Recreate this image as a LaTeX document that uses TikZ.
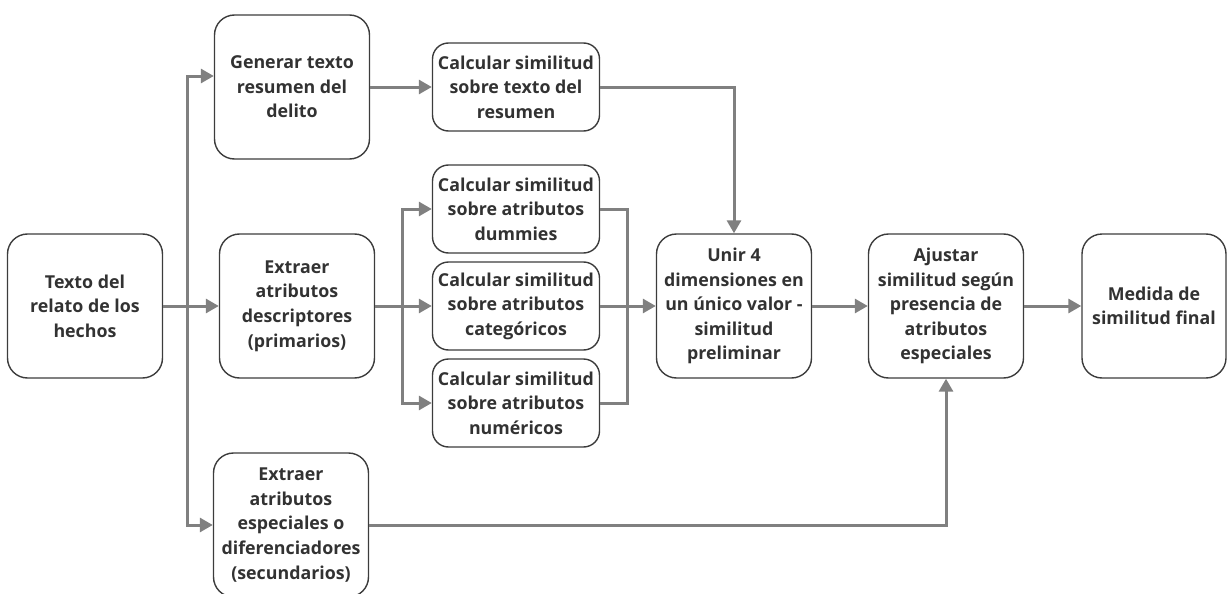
\documentclass[tikz,border=0pt]{standalone}
\usepackage{fontspec}
\setmainfont{Open Sans}
\usepackage{xcolor}
\usetikzlibrary{arrows.meta, calc}
\definecolor{boxline}{RGB}{60,60,60}
\definecolor{boxtext}{RGB}{50,50,50}
\definecolor{flowgray}{RGB}{128,128,128}

\tikzset{
  stepbox/.style={draw=boxline, line width=0.7pt, rounded corners=10pt,
    inner sep=0pt, align=center, text=boxtext,
    font=\fontsize{8.9}{12.3}\selectfont\bfseries},
  bigbox/.style={stepbox, minimum width=77.5pt, minimum height=72pt},
  simbox/.style={stepbox, minimum width=83.5pt, minimum height=44pt,
    rounded corners=8pt},
  flow/.style={draw=flowgray, line width=1.5pt},
  conn/.style={flow, -{Triangle[length=6.5pt, width=7pt]}}
}

\begin{document}
\begin{tikzpicture}[x=0.5pt, y=-0.5pt]
\useasboundingbox (0,0) rectangle (1228,594);

%% boxes
\node[bigbox] (txt)   at (85,306)  {Texto del\\relato de los\\hechos};
\node[bigbox] (gen)   at (292,87)  {Generar texto\\resumen del\\delito};
\node[bigbox] (extr)  at (297,306) {Extraer\\atributos\\descriptores\\(primarios)};
\node[bigbox] (esp)   at (291,525) {Extraer\\atributos\\especiales o\\diferenciadores\\(secundarios)};
\node[simbox] (simres) at (516,87)  {Calcular similitud\\sobre texto del\\resumen};
\node[simbox] (simdum) at (516,209) {Calcular similitud\\sobre atributos\\dummies};
\node[simbox] (simcat) at (516,306) {Calcular similitud\\sobre atributos\\categóricos};
\node[simbox] (simnum) at (516,403) {Calcular similitud\\sobre atributos\\numéricos};
\node[bigbox] (unir)  at (734,306) {Unir 4\\dimensiones en\\un único valor -\\similitud\\preliminar};
\node[bigbox] (ajus)  at (946,306) {Ajustar\\similitud según\\presencia de\\atributos\\especiales};
\node[bigbox, minimum width=72pt] (med) at (1154,306) {Medida de\\similitud final};

%% junctions
\coordinate (trunk) at (187,306);
\coordinate (split) at (402,306);
\coordinate (merge) at (627,306);

%% connectors
\draw[conn] (txt.east) -- (extr.west);
\draw[conn] (trunk) |- ([yshift=5.5pt]gen.west);
\draw[conn] (trunk) |- (esp.west);
\draw[conn] (gen.east) -- (simres.west);
\draw[conn] (simres.east) -| (unir.north);
\draw[conn] (extr.east) -- (simcat.west);
\draw[conn] (split) |- (simdum.west);
\draw[conn] (split) |- (simnum.west);
\draw[flow] (simdum.east) -| (merge);
\draw[flow] (simnum.east) -| (merge);
\draw[conn] (simcat.east) -- (unir.west);
\draw[conn] (unir.east) -- (ajus.west);
\draw[conn] (ajus.east) -- (med.west);
\draw[conn] (esp.east) -| (ajus.south);
\end{tikzpicture}
\end{document}
